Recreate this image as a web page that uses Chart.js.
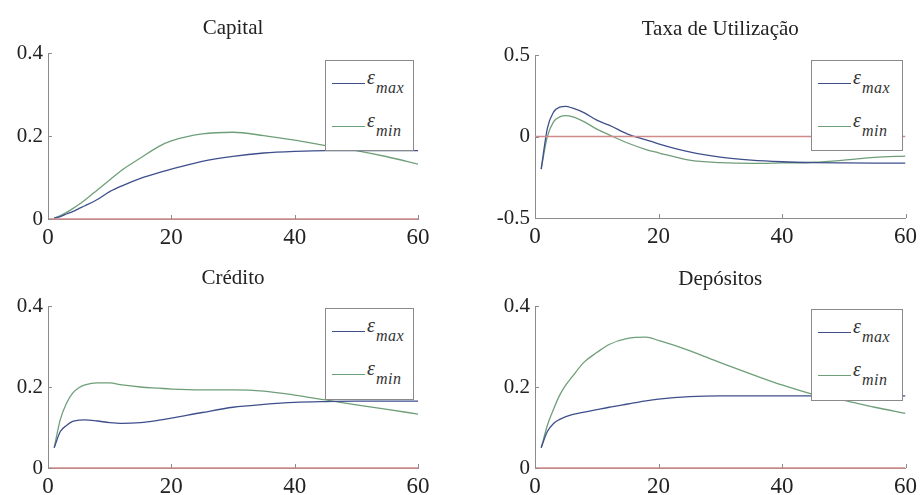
<!DOCTYPE html>
<html>
<head>
<meta charset="utf-8">
<script src="https://cdn.jsdelivr.net/npm/chart.js@4/dist/chart.umd.min.js"></script>
<style>
  body { margin: 0; background: #fff; width: 922px; height: 495px; position: relative; overflow: hidden; }
  canvas { position: absolute; }
  .leg { position: absolute; box-sizing: border-box; border: 1px solid #8a8a8a; background: #fff;
         font-family: "Liberation Serif", serif; font-style: italic; color: #333; }
  .leg .ln { position: absolute; height: 0; border-top: 1px solid; }
  .leg .eps { position: absolute; font-size: 20px; line-height: 20px; }
  .leg .sub { position: absolute; font-size: 16px; line-height: 16px; letter-spacing: 0.5px; }
</style>
</head>
<body>
<canvas id="capital" width="461" height="248" style="left:0;top:0"></canvas>
<canvas id="taxa" width="461" height="248" style="left:461px;top:0"></canvas>
<canvas id="credito" width="461" height="247" style="left:0;top:248px"></canvas>
<canvas id="depositos" width="461" height="247" style="left:461px;top:248px"></canvas>
<script>
// impulse responses, periods 1..60
var periods = [1, 2, 3, 4, 5, 6, 8, 10, 12, 15, 18, 20, 25, 30, 35, 40, 45, 50, 55, 60];

var capitalMax = [0.002, 0.006, 0.012, 0.018, 0.025, 0.032, 0.047, 0.066, 0.08, 0.098, 0.112, 0.12, 0.139, 0.151, 0.159, 0.163, 0.165, 0.165, 0.165, 0.165];
var capitalMin = [0.002, 0.008, 0.016, 0.025, 0.035, 0.046, 0.07, 0.094, 0.118, 0.147, 0.175, 0.188, 0.205, 0.209, 0.201, 0.19, 0.177, 0.165, 0.15, 0.132];

var taxaMax = [-0.2, 0.05, 0.15, 0.18, 0.185, 0.175, 0.145, 0.1, 0.07, 0.015, -0.02, -0.045, -0.095, -0.127, -0.145, -0.155, -0.16, -0.162, -0.163, -0.163];
var taxaMin = [-0.2, 0.0, 0.09, 0.12, 0.128, 0.122, 0.09, 0.045, 0.01, -0.04, -0.08, -0.1, -0.145, -0.16, -0.165, -0.162, -0.158, -0.145, -0.128, -0.12];

var creditoMax = [0.05, 0.09, 0.105, 0.115, 0.118, 0.119, 0.116, 0.112, 0.11, 0.112, 0.118, 0.123, 0.137, 0.15, 0.157, 0.162, 0.164, 0.165, 0.165, 0.165];
var creditoMin = [0.05, 0.12, 0.16, 0.185, 0.198, 0.205, 0.21, 0.21, 0.205, 0.2, 0.197, 0.195, 0.193, 0.193, 0.19, 0.18, 0.168, 0.156, 0.145, 0.133];

var depositosMax = [0.05, 0.09, 0.11, 0.12, 0.127, 0.132, 0.138, 0.144, 0.15, 0.158, 0.166, 0.17, 0.176, 0.178, 0.178, 0.178, 0.178, 0.178, 0.178, 0.178];
var depositosMin = [0.05, 0.105, 0.145, 0.18, 0.205, 0.225, 0.262, 0.285, 0.305, 0.32, 0.323, 0.315, 0.29, 0.26, 0.232, 0.205, 0.182, 0.167, 0.15, 0.135];

// steady state reference line
var steadyPeriods = [0, 60];
var steadyState = [0, 0];

var xTicks = [0, 20, 40, 60];
var shareTicks = [0, 0.2, 0.4];
var rateTicks = [-0.5, 0, 0.5];

var BLUE = "#3e4f8c", GREEN = "#6f9f78", RED = "#cf8a8a", AXIS = "#8c8c8c", INK = "#222";
var SERIF = '"Liberation Serif", "Times New Roman", serif';

function toPoints(xs, ys) {
  return xs.map(function (x, i) { return { x: x, y: ys[i] }; });
}

var innerTicks = {
  id: "innerTicks",
  afterDatasetsDraw: function (chart) {
    var ctx = chart.ctx, a = chart.chartArea, sx = chart.scales.x, sy = chart.scales.y;
    ctx.save();
    ctx.strokeStyle = AXIS;
    ctx.lineWidth = 1;
    sx.ticks.forEach(function (t) {
      var px = Math.round(sx.getPixelForValue(t.value)) + 0.5;
      ctx.beginPath(); ctx.moveTo(px, a.bottom); ctx.lineTo(px, a.bottom - 4); ctx.stroke();
    });
    sy.ticks.forEach(function (t) {
      var py = Math.round(sy.getPixelForValue(t.value)) + 0.5;
      ctx.beginPath(); ctx.moveTo(a.left, py); ctx.lineTo(a.left + 4, py); ctx.stroke();
    });
    ctx.restore();
  }
};

function buildPanel(id, p) {
  var canvas = document.getElementById(id);
  var w = canvas.width, h = canvas.height;
  var padTop = p.titleY - 12.6;
  return new Chart(canvas, {
    type: "line",
    data: {
      datasets: [
        { label: "zero", data: toPoints(steadyPeriods, steadyState), borderColor: RED, cubicInterpolationMode: "default", tension: 0 },
        { label: "max", data: toPoints(periods, p.max), borderColor: BLUE },
        { label: "min", data: toPoints(periods, p.min), borderColor: GREEN }
      ]
    },
    options: {
      responsive: false,
      animation: false,
      devicePixelRatio: 1,
      layout: { padding: { left: 0, right: w - p.right, top: 0, bottom: 0 } },
      elements: {
        point: { radius: 0 },
        line: { borderWidth: 1.3, cubicInterpolationMode: "monotone", fill: false }
      },
      datasets: { line: { clip: { left: 0, right: 0, top: 4, bottom: 4 } } },
      plugins: {
        legend: { display: false },
        tooltip: { enabled: false },
        title: {
          display: true, text: p.title, fullSize: false, color: INK,
          font: { family: SERIF, size: 21, weight: "normal" },
          padding: { top: padTop, bottom: p.top - padTop - 25.2 }
        }
      },
      scales: {
        x: {
          type: "linear", min: 0, max: 60,
          afterBuildTicks: function (s) { s.ticks = xTicks.map(function (v) { return { value: v }; }); },
          afterFit: function (s) { s.height = h - p.bottom; },
          grid: { display: false, drawTicks: false },
          border: { color: AXIS },
          ticks: { padding: 5, color: INK, font: { family: SERIF, size: 23 }, maxRotation: 0 }
        },
        y: {
          min: p.ticks[0], max: p.ticks[p.ticks.length - 1],
          afterBuildTicks: function (s) { s.ticks = p.ticks.map(function (v) { return { value: v }; }); },
          afterFit: function (s) { s.width = p.left; },
          grid: { display: false, drawTicks: false },
          border: { color: AXIS },
          ticks: { padding: 5, color: INK, font: { family: SERIF, size: 21 } }
        }
      }
    },
    plugins: [innerTicks]
  });
}

function addLegend(x, y, w, h) {
  var box = document.createElement("div");
  box.className = "leg";
  box.style.cssText = "left:" + x + "px;top:" + y + "px;width:" + w + "px;height:" + h + "px";
  var rows = [["max", BLUE, 22], ["min", GREEN, 65]];
  rows.forEach(function (r) {
    var ln = document.createElement("div");
    ln.className = "ln";
    ln.style.cssText = "left:6px;width:33px;top:" + r[2] + "px;border-color:" + r[1];
    var eps = document.createElement("div");
    eps.className = "eps";
    eps.textContent = "ε";
    eps.style.cssText = "left:41px;top:" + (r[2] - 16) + "px";
    var sub = document.createElement("div");
    sub.className = "sub";
    sub.textContent = r[0];
    sub.style.cssText = "left:50px;top:" + (r[2] - 3) + "px";
    box.appendChild(ln); box.appendChild(eps); box.appendChild(sub);
  });
  document.body.appendChild(box);
}

buildPanel("capital", { title: "Capital", max: capitalMax, min: capitalMin, ticks: shareTicks,
  left: 48, right: 418, top: 53, bottom: 219, titleY: 28 });
buildPanel("taxa", { title: "Taxa de Utilização", max: taxaMax, min: taxaMin, ticks: rateTicks,
  left: 74, right: 446, top: 55, bottom: 218, titleY: 29.5 });
buildPanel("credito", { title: "Crédito", max: creditoMax, min: creditoMin, ticks: shareTicks,
  left: 48, right: 418, top: 58, bottom: 220, titleY: 30 });
buildPanel("depositos", { title: "Depósitos", max: depositosMax, min: depositosMin, ticks: shareTicks,
  left: 74, right: 446, top: 58, bottom: 220, titleY: 31.5 });

addLegend(325, 60, 89, 91);
addLegend(811, 60, 92, 91);
addLegend(325, 308, 89, 92);
addLegend(811, 309, 92, 92);
</script>
</body>
</html>
